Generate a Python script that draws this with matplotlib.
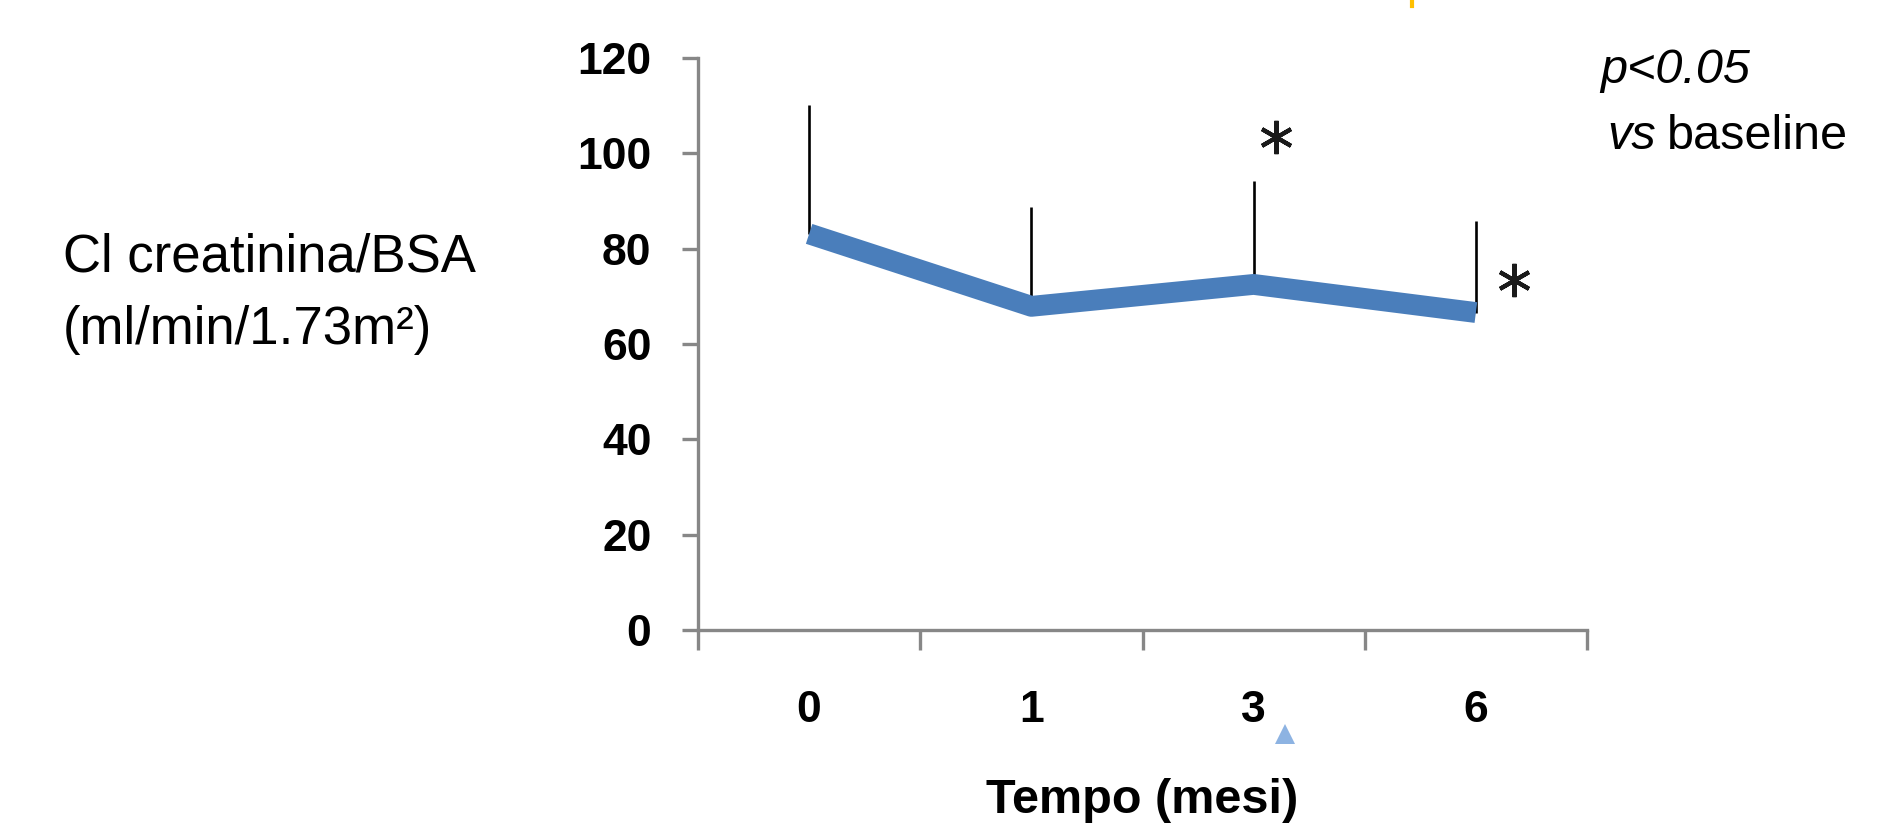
import numpy as np
import matplotlib
matplotlib.use("Agg")
import matplotlib.pyplot as plt
from matplotlib.lines import Line2D

plt.rcParams['font.family'] = ['Liberation Sans', 'DejaVu Sans']

# data
months      = ["0", "1", "3", "6"]
clearance   = [83.1, 67.9, 72.5, 66.6]     # mean Cl creatinina/BSA
err_top     = [110.2, 88.8, 94.3, 85.7]    # top of upper error bar
star_x      = [2.10, 3.17]                 # asterisk positions (category units)
star_y      = [103.5, 73.5]
yticks      = [0, 20, 40, 60, 80, 100, 120]

W, H = 1902, 840
fig = plt.figure(figsize=(W / 100, H / 100), dpi=100)
ax = fig.add_axes([698 / W, 1 - 630 / H, (1587 - 698) / W, (630 - 58) / H])

grey = "#878787"
blue = "#4A7EBB"
x = np.arange(len(months))
clearance = np.array(clearance)
up = np.array(err_top) - clearance

ax.errorbar(x, clearance, yerr=[np.zeros_like(up), up], fmt="none",
            ecolor="black", elinewidth=1.9, capsize=0, zorder=2)
ax.plot(x, clearance, color=blue, lw=15, solid_capstyle="butt",
        solid_joinstyle="round", zorder=3)
ax.plot(star_x, star_y, ls="none", marker=(6, 2, 0), ms=24, mew=3,
        color="#1a1a1a", zorder=4, clip_on=False)

ax.set_xlim(-0.5, len(months) - 0.5)
ax.set_ylim(0, 120)
ax.set_yticks(yticks)
ax.set_yticklabels([str(v) for v in yticks])
ax.set_xticks(x)
ax.set_xticklabels(months)
ax.set_xticks(np.arange(-0.5, len(months)), minor=True)

for s in ("top", "right"):
    ax.spines[s].set_visible(False)
for s in ("left", "bottom"):
    ax.spines[s].set_color(grey)
    ax.spines[s].set_linewidth(2.4)

ax.tick_params(axis="y", length=11.5, width=2.4, color=grey, pad=22,
               labelsize=32)
ax.tick_params(axis="x", which="major", length=0, pad=43, labelsize=32)
ax.tick_params(axis="x", which="minor", length=14.5, width=2.4, color=grey)
for lab in ax.get_xticklabels() + ax.get_yticklabels():
    lab.set_fontweight("bold")

ax.set_xlabel("Tempo (mesi)", fontsize=35, fontweight="bold", labelpad=34)

# y label as free text on the left
fig.text(63 / W, 1 - 272 / H, "Cl creatinina/BSA", fontsize=38,
         va="baseline", ha="left")
fig.text(63 / W, 1 - 344 / H, "(ml/min/1.73m²)", fontsize=38,
         va="baseline", ha="left")

# significance note
fig.text(1600 / W, 1 - 83 / H, "p<0.05", fontsize=35, style="italic",
         va="baseline", ha="left")
fig.text(1607 / W, 1 - 149 / H, "vs", fontsize=35, style="italic",
         va="baseline", ha="left")
fig.text(1667 / W, 1 - 149 / H, "baseline", fontsize=35,
         va="baseline", ha="left")

# stray marks present in the source image
ax.plot([2.14], [-21.8], marker="^", ms=14, color="#8DB3E2", mew=0,
        clip_on=False)
fig.add_artist(Line2D([1412 / W, 1412 / W], [1.0, 1 - 6 / H],
                      transform=fig.transFigure, color="#FFC000", lw=3))

fig.savefig("out.png", dpi=100)
